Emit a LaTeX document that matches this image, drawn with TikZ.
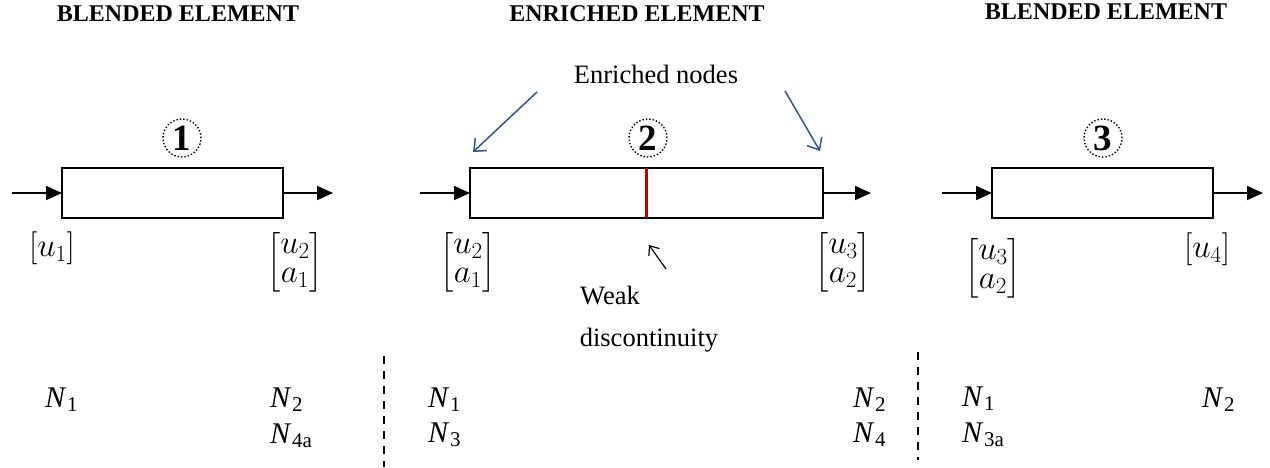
\RequirePackage{fix-cm}
\documentclass[tikz,border=0pt]{standalone}
\usepackage{amsmath}
\usepackage{fontspec}
\setmainfont{Liberation Serif}
\usetikzlibrary{arrows.meta}
\definecolor{arrowblue}{RGB}{47,85,140}
\definecolor{discred}{RGB}{192,0,0}
\newcommand\Nsub[1]{\textit{N}\kern0.5pt\raisebox{-4pt}{\fontsize{21}{21}\selectfont #1}}
\newcommand\colvec[2]{\renewcommand\arraystretch{0.78}\begin{bmatrix}#1\\#2\end{bmatrix}}
\begin{document}
\begin{tikzpicture}[x=1pt,y=-1pt,
  elembox/.style={draw, line width=1.8pt, inner sep=0pt, outer sep=0pt, minimum height=50pt},
  bararrow/.style={line width=1.8pt, -{Triangle[length=16pt,width=14pt]}},
  enrarrow/.style={draw=arrowblue, line width=1.5pt, -{Straight Barb[length=10pt,width=17pt]}},
  thinarrow/.style={line width=1.2pt, -{Straight Barb[length=8pt,width=13pt]}},
  circnum/.style={draw, dotted, line width=1.4pt, circle, minimum size=38pt, inner sep=0pt, font=\fontsize{37}{37}\selectfont\bfseries},
  header/.style={font=\fontsize{24}{28}\selectfont\bfseries},
  plain/.style={font=\fontsize{26.5}{30}\selectfont},
  vec/.style={font=\fontsize{33}{38}\selectfont, inner sep=0pt},
  nlab/.style={anchor=base west, font=\fontsize{30}{34}\selectfont, inner sep=0pt},
  sep/.style={line width=1.8pt, dash pattern=on 8pt off 7pt}]
\useasboundingbox (0,0) rectangle (1270,467);

% headers
\node[header] (h1) at (178,14) {BLENDED ELEMENT};
\node[header] (h2) at (637,14) {ENRICHED ELEMENT};
\node[header] (h3) at (1106,12) {BLENDED ELEMENT};

% element 1
\node[elembox, minimum width=221pt] (e1) at (172.5,193) {};
\coordinate (i1) at (12,193);
\coordinate (o1) at (333,193);
\draw[bararrow] (i1) -- (e1.west);
\draw[bararrow] (e1.east) -- (o1);
\node[circnum] (c1) at (182,138) {1};
\node[vec] (v11) at (52,248) {$[u_1]$};
\node[vec] (v12) at (295,262) {$\colvec{u_2}{a_1}$};

% element 2
\node[elembox, minimum width=353pt] (e2) at (646.5,193) {};
\coordinate (i2) at (420,193);
\coordinate (o2) at (871,193);
\draw[bararrow] (i2) -- (e2.west);
\draw[bararrow] (e2.east) -- (o2);
\draw[discred, line width=3pt] (e2.north) -- (e2.south);
\node[circnum] (c2) at (648,138) {2};
\node[vec] (v21) at (468,262) {$\colvec{u_2}{a_1}$};
\node[vec] (v22) at (843,262) {$\colvec{u_3}{a_2}$};
\node[plain] (enr) at (656,74) {Enriched nodes};
\coordinate (ea1) at (537,92);
\coordinate (eb1) at (473,152);
\coordinate (ea2) at (785,91);
\coordinate (eb2) at (820,151);
\draw[enrarrow] (ea1) -- (eb1);
\draw[enrarrow] (ea2) -- (eb2);
\coordinate (wa) at (666,269);
\coordinate (wb) at (649,245);
\draw[thinarrow] (wa) -- (wb);
\node[plain] (weak) at (610,295) {Weak};
\node[plain] (disc) at (649,340) {discontinuity};

% element 3
\node[elembox, minimum width=221pt] (e3) at (1102.5,193) {};
\coordinate (i3) at (942,193);
\coordinate (o3) at (1263,193);
\draw[bararrow] (i3) -- (e3.west);
\draw[bararrow] (e3.east) -- (o3);
\node[circnum] (c3) at (1103,138) {3};
\node[vec] (v31) at (993,268) {$\colvec{u_3}{a_2}$};
\node[vec] (v32) at (1207,249) {$[u_4]$};

% separators
\coordinate (s1a) at (384,356);
\coordinate (s1b) at (384,467);
\coordinate (s2a) at (918,352);
\coordinate (s2b) at (918,460);
\draw[sep] (s1a) -- (s1b);
\draw[sep] (s2a) -- (s2b);

% shape functions
\node[nlab] (n11) at (45,407) {\Nsub{1}};
\node[nlab] (n12) at (270,407) {\Nsub{2}};
\node[nlab] (n14) at (270,443) {\Nsub{4a}};
\node[nlab] (n21) at (428,407) {\Nsub{1}};
\node[nlab] (n23) at (428,442) {\Nsub{3}};
\node[nlab] (n22) at (853,407) {\Nsub{2}};
\node[nlab] (n24) at (853,442) {\Nsub{4}};
\node[nlab] (n31) at (962,406) {\Nsub{1}};
\node[nlab] (n33) at (962,442) {\Nsub{3a}};
\node[nlab] (n32) at (1202,407) {\Nsub{2}};
\end{tikzpicture}
\end{document}
